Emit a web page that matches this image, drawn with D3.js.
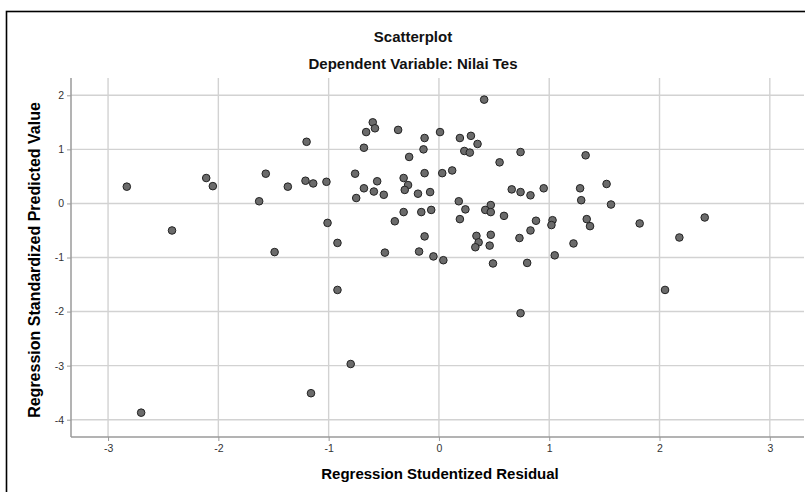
<!DOCTYPE html>
<html>
<head>
<meta charset="utf-8">
<script src="https://cdn.jsdelivr.net/npm/d3@7"></script>
<style>
  body { margin: 0; background: #fff; }
  text { font-family: "Liberation Sans", Arial, sans-serif; }
</style>
</head>
<body>
<div class="scatter"></div>
<script>
var chartTitle = "Scatterplot";
var chartSubtitle = "Dependent Variable: Nilai Tes";
var xLabel = "Regression Studentized Residual";
var yLabel = "Regression Standardized Predicted Value";

// studentized residual (x) and standardized predicted value (y)
var residual = [
  -2.83, -2.42, -2.11, -2.05, -1.63, -1.57, -1.49, -1.37, -1.20, -1.21,
  -1.14, -1.02, -1.01, -0.92, -0.92, -2.70, -1.16, -0.80, 0.74, 2.05,
  1.33, 1.28, 1.52, 1.29, 1.56, 1.34, 1.37, 1.82, 1.22, 2.41,
  2.18, -0.60, -0.66, -0.58, -0.37, 0.01, -0.13, -0.68, -0.14, -0.27,
  -0.76, -0.13, 0.03, -0.32, -0.56, -0.28, -0.68, -0.31, -0.59, -0.50,
  -0.19, -0.08, -0.75, -0.32, -0.16, -0.07, -0.40, -0.13, -0.49, -0.18,
  -0.05, 0.04, 0.41, 0.19, 0.29, 0.35, 0.23, 0.28, 0.74, 0.55,
  0.12, 0.66, 0.74, 0.83, 0.95, 0.18, 0.24, 0.47, 0.42, 0.47,
  0.59, 0.19, 0.88, 1.03, 1.02, 0.83, 0.47, 0.34, 0.73, 0.36,
  0.46, 0.33, 1.05, 0.49, 0.80
];
var predicted = [
  0.31, -0.50, 0.47, 0.32, 0.04, 0.55, -0.90, 0.31, 1.14, 0.42,
  0.37, 0.40, -0.36, -0.73, -1.60, -3.87, -3.51, -2.97, -2.03, -1.60,
  0.89, 0.28, 0.36, 0.06, -0.02, -0.29, -0.42, -0.37, -0.74, -0.26,
  -0.63, 1.50, 1.32, 1.39, 1.36, 1.32, 1.21, 1.03, 1.00, 0.86,
  0.55, 0.56, 0.56, 0.47, 0.41, 0.34, 0.28, 0.25, 0.22, 0.16,
  0.18, 0.21, 0.10, -0.16, -0.16, -0.12, -0.33, -0.61, -0.91, -0.89,
  -0.98, -1.05, 1.92, 1.21, 1.25, 1.10, 0.97, 0.94, 0.95, 0.76,
  0.61, 0.26, 0.21, 0.15, 0.28, 0.04, -0.11, -0.03, -0.12, -0.16,
  -0.23, -0.29, -0.32, -0.31, -0.40, -0.50, -0.58, -0.60, -0.64, -0.72,
  -0.78, -0.81, -0.96, -1.11, -1.10
];
var xTicks = [-3, -2, -1, 0, 1, 2, 3];
var yTicks = [2, 1, 0, -1, -2, -3, -4];

var W = 805, H = 492;
var margin = {top: 78, right: 1, bottom: 55, left: 71};
var width = W - margin.left - margin.right,
    height = H - margin.top - margin.bottom;

var svg = d3.select(".scatter")
    .append("svg")
    .attr("width", W)
    .attr("height", H);

// outer frame (right and bottom edges fall outside the picture)
svg.append("rect")
    .attr("x", 6.5).attr("y", 11.5)
    .attr("width", W).attr("height", H)
    .attr("fill", "#fff")
    .attr("stroke", "#000")
    .attr("stroke-width", 1.6);

svg.append("text")
    .attr("x", 413).attr("y", 42)
    .attr("text-anchor", "middle")
    .style("font-size", "15px").style("font-weight", "bold")
    .attr("fill", "#111")
    .text(chartTitle);

svg.append("text")
    .attr("x", 413).attr("y", 69)
    .attr("text-anchor", "middle")
    .style("font-size", "15px").style("font-weight", "bold")
    .attr("fill", "#111")
    .text(chartSubtitle);

var g = svg.append("g")
    .attr("transform", "translate(" + margin.left + "," + margin.top + ")");

var x = d3.scaleLinear().domain([-3.336, 3.31]).range([0, width]);
var y = d3.scaleLinear().domain([-4.32, 2.32]).range([height, 0]);

// grid
g.append("g").attr("class", "grid x")
    .selectAll("line").data(xTicks).enter().append("line")
    .attr("x1", function(d){ return x(d); }).attr("x2", function(d){ return x(d); })
    .attr("y1", 0).attr("y2", height)
    .attr("stroke", "#d2d2d2").attr("stroke-width", 1.4);

g.append("g").attr("class", "grid y")
    .selectAll("line").data(yTicks).enter().append("line")
    .attr("y1", function(d){ return y(d); }).attr("y2", function(d){ return y(d); })
    .attr("x1", 0).attr("x2", width)
    .attr("stroke", "#d2d2d2").attr("stroke-width", 1.4);

var fmt = function(d){ return String(d); };   // plain hyphen minus, as SPSS prints it
var xAxis = d3.axisBottom(x).tickValues(xTicks).tickFormat(fmt).tickSize(4).tickPadding(4);
var yAxis = d3.axisLeft(y).tickValues(yTicks).tickFormat(fmt).tickSize(4).tickPadding(3);

var gx = g.append("g")
    .attr("class", "x axis")
    .attr("transform", "translate(0," + height + ")")
    .call(xAxis);
var gy = g.append("g")
    .attr("class", "y axis")
    .call(yAxis);

[gx, gy].forEach(function(a){
    a.select(".domain").attr("stroke", "#9a9a9a").attr("stroke-width", 1.5);
    a.selectAll(".tick line").attr("stroke", "#9a9a9a");
    a.selectAll("text")
        .attr("fill", "#333")
        .style("font-size", "10.5px")
        .style("font-family", "'Liberation Sans', Arial, sans-serif");
});
gx.select(".domain").attr("d", "M0,0H" + width);
gy.select(".domain").attr("d", "M0,0V" + height);

svg.append("text")
    .attr("x", 440).attr("y", 479)
    .attr("text-anchor", "middle")
    .style("font-size", "15px").style("font-weight", "bold")
    .attr("fill", "#000")
    .text(xLabel);

svg.append("text")
    .attr("transform", "rotate(-90)")
    .attr("x", -260).attr("y", 40)
    .attr("text-anchor", "middle")
    .style("font-size", "16px").style("font-weight", "bold")
    .attr("fill", "#000")
    .text(yLabel);

var pts = residual.map(function(r, i){ return {r: r, p: predicted[i]}; });

g.append("g").attr("class", "points")
    .selectAll("circle").data(pts).enter().append("circle")
    .attr("cx", function(d){ return x(d.r); })
    .attr("cy", function(d){ return y(d.p); })
    .attr("r", 3.8)
    .attr("fill", "#6b6b6b")
    .attr("stroke", "#222")
    .attr("stroke-width", 1);
</script>
</body>
</html>
